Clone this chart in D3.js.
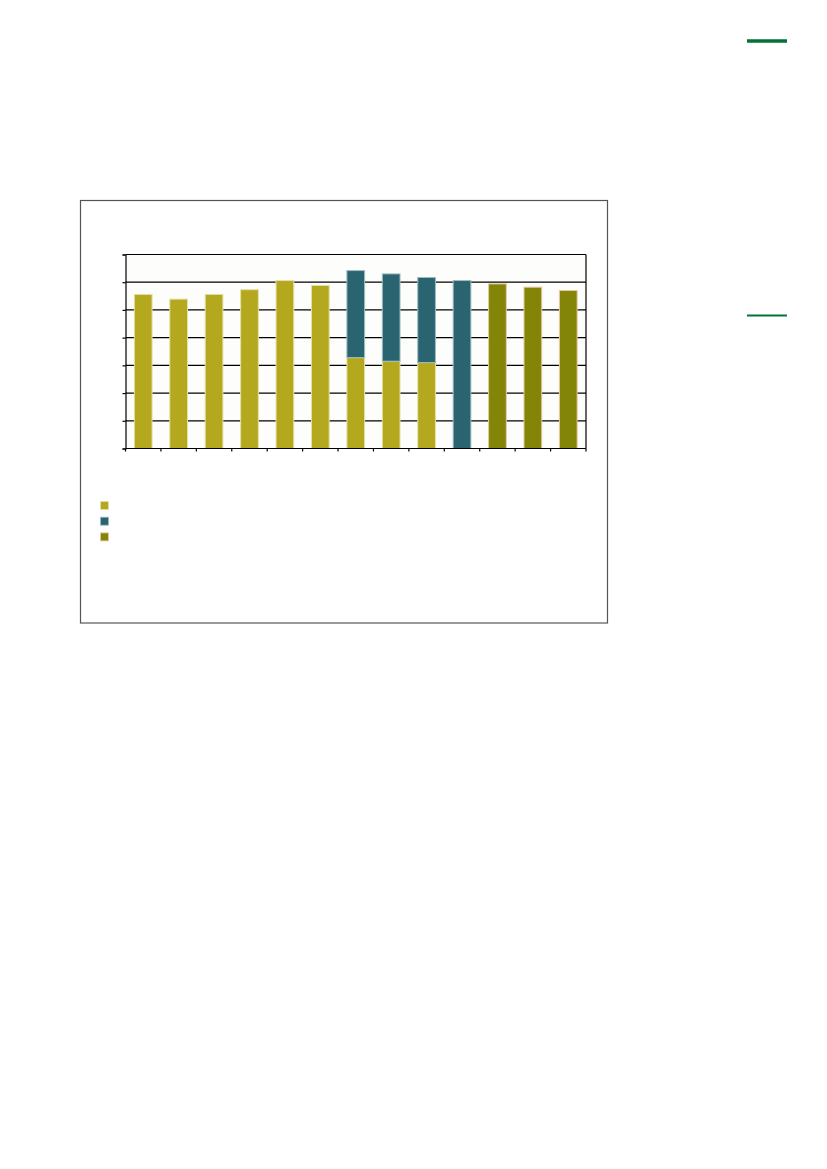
<!DOCTYPE html>
<html>
<head>
<meta charset="utf-8">
<script src="https://cdn.jsdelivr.net/npm/d3@7"></script>
<style>
  body { margin: 0; background: #fff; }
</style>
</head>
<body>
<div id="chart"></div>
<script>
// Chart data (no labels are shown in the source, only the marks)
const categories = ["c1", "c2", "c3", "c4", "c5", "c6", "c7", "c8", "c9", "c10", "c11", "c12", "c13"];
const seriesKeys = ["a", "b", "c"];
const seriesA = [55.6, 53.9, 55.6, 57.3, 60.6, 58.8, 32.8, 31.5, 31.0, 0, 0, 0, 0];
const seriesB = [0, 0, 0, 0, 0, 0, 31.4, 31.5, 30.7, 60.6, 0, 0, 0];
const seriesC = [0, 0, 0, 0, 0, 0, 0, 0, 0, 0, 59.4, 58.2, 57.0];
const yTicks = [0, 10, 20, 30, 40, 50, 60, 70];

const colors = { a: "#b4a81e", b: "#2a6470", c: "#838508" };
const strokes = { a: "#e6e0a8", b: "#9fbcc2", c: "#e8c9a0" };

const rows = categories.map((cat, i) => ({
  cat, a: seriesA[i], b: seriesB[i], c: seriesC[i]
}));

const svg = d3.select("#chart").append("svg")
  .attr("width", 827)
  .attr("height", 1169);

// Green rules at the top right of the page
svg.append("line")
  .attr("x1", 747).attr("x2", 787).attr("y1", 41).attr("y2", 41)
  .attr("stroke", "#037236").attr("stroke-width", 3.5);
svg.append("line")
  .attr("x1", 747).attr("x2", 787).attr("y1", 315.5).attr("y2", 315.5)
  .attr("stroke", "#037236").attr("stroke-width", 2);

// Chart frame
svg.append("rect")
  .attr("x", 80.5).attr("y", 200.5)
  .attr("width", 527).attr("height", 422.5)
  .attr("fill", "#fff")
  .attr("stroke", "#555").attr("stroke-width", 1.2);

// Scales
const x = d3.scaleBand()
  .domain(categories)
  .range([125.5, 586])
  .paddingInner(0.5)
  .paddingOuter(0.25);

const y = d3.scaleLinear()
  .domain([0, 70])
  .range([448.5, 254.5]);

// Plot background
svg.append("rect")
  .attr("x", x.range()[0]).attr("y", y(70))
  .attr("width", x.range()[1] - x.range()[0])
  .attr("height", y(0) - y(70))
  .attr("fill", "#fdfdfb");

// Gridlines
svg.append("g")
  .selectAll("line")
  .data(yTicks)
  .join("line")
  .attr("x1", x.range()[0]).attr("x2", x.range()[1])
  .attr("y1", d => y(d)).attr("y2", d => y(d))
  .attr("stroke", "#000").attr("stroke-width", 1.2);

// Right border of plot
svg.append("line")
  .attr("x1", x.range()[1]).attr("x2", x.range()[1])
  .attr("y1", y(70)).attr("y2", y(0))
  .attr("stroke", "#000").attr("stroke-width", 1.2);

// Stacked bars
const stack = d3.stack().keys(seriesKeys);
const stacked = stack(rows);

svg.append("g")
  .selectAll("g")
  .data(stacked)
  .join("g")
  .attr("fill", d => colors[d.key])
  .attr("stroke", d => strokes[d.key])
  .attr("stroke-width", 1)
  .selectAll("rect")
  .data(d => d.filter(p => p[1] - p[0] > 0))
  .join("rect")
  .attr("x", d => x(d.data.cat))
  .attr("y", d => y(d[1]))
  .attr("width", x.bandwidth())
  .attr("height", d => y(d[0]) - y(d[1]));

// Y axis (no labels)
const yAxis = svg.append("g")
  .attr("transform", `translate(${x.range()[0]},0)`)
  .call(d3.axisLeft(y).tickValues(yTicks).tickSize(3).tickFormat(""));
yAxis.select(".domain").attr("stroke", "#000").attr("stroke-width", 1.2);
yAxis.selectAll(".tick line").attr("stroke", "#000").attr("stroke-width", 1.2);

// X axis with ticks between categories
const step = x.step();
const boundaries = d3.range(categories.length + 1).map(i => x.range()[0] + i * step);
svg.append("line")
  .attr("x1", x.range()[0]).attr("x2", x.range()[1])
  .attr("y1", y(0)).attr("y2", y(0))
  .attr("stroke", "#000").attr("stroke-width", 1.2);
svg.append("g")
  .selectAll("line")
  .data(boundaries)
  .join("line")
  .attr("x1", d => d).attr("x2", d => d)
  .attr("y1", y(0)).attr("y2", y(0) + 3)
  .attr("stroke", "#000").attr("stroke-width", 1.2);

// Legend swatches
svg.append("g")
  .selectAll("rect")
  .data(seriesKeys)
  .join("rect")
  .attr("x", 100.5)
  .attr("y", (d, i) => 501.5 + i * 15.7)
  .attr("width", 8)
  .attr("height", 8)
  .attr("fill", d => colors[d])
  .attr("stroke", d => strokes[d])
  .attr("stroke-width", 0.8);
</script>
</body>
</html>
